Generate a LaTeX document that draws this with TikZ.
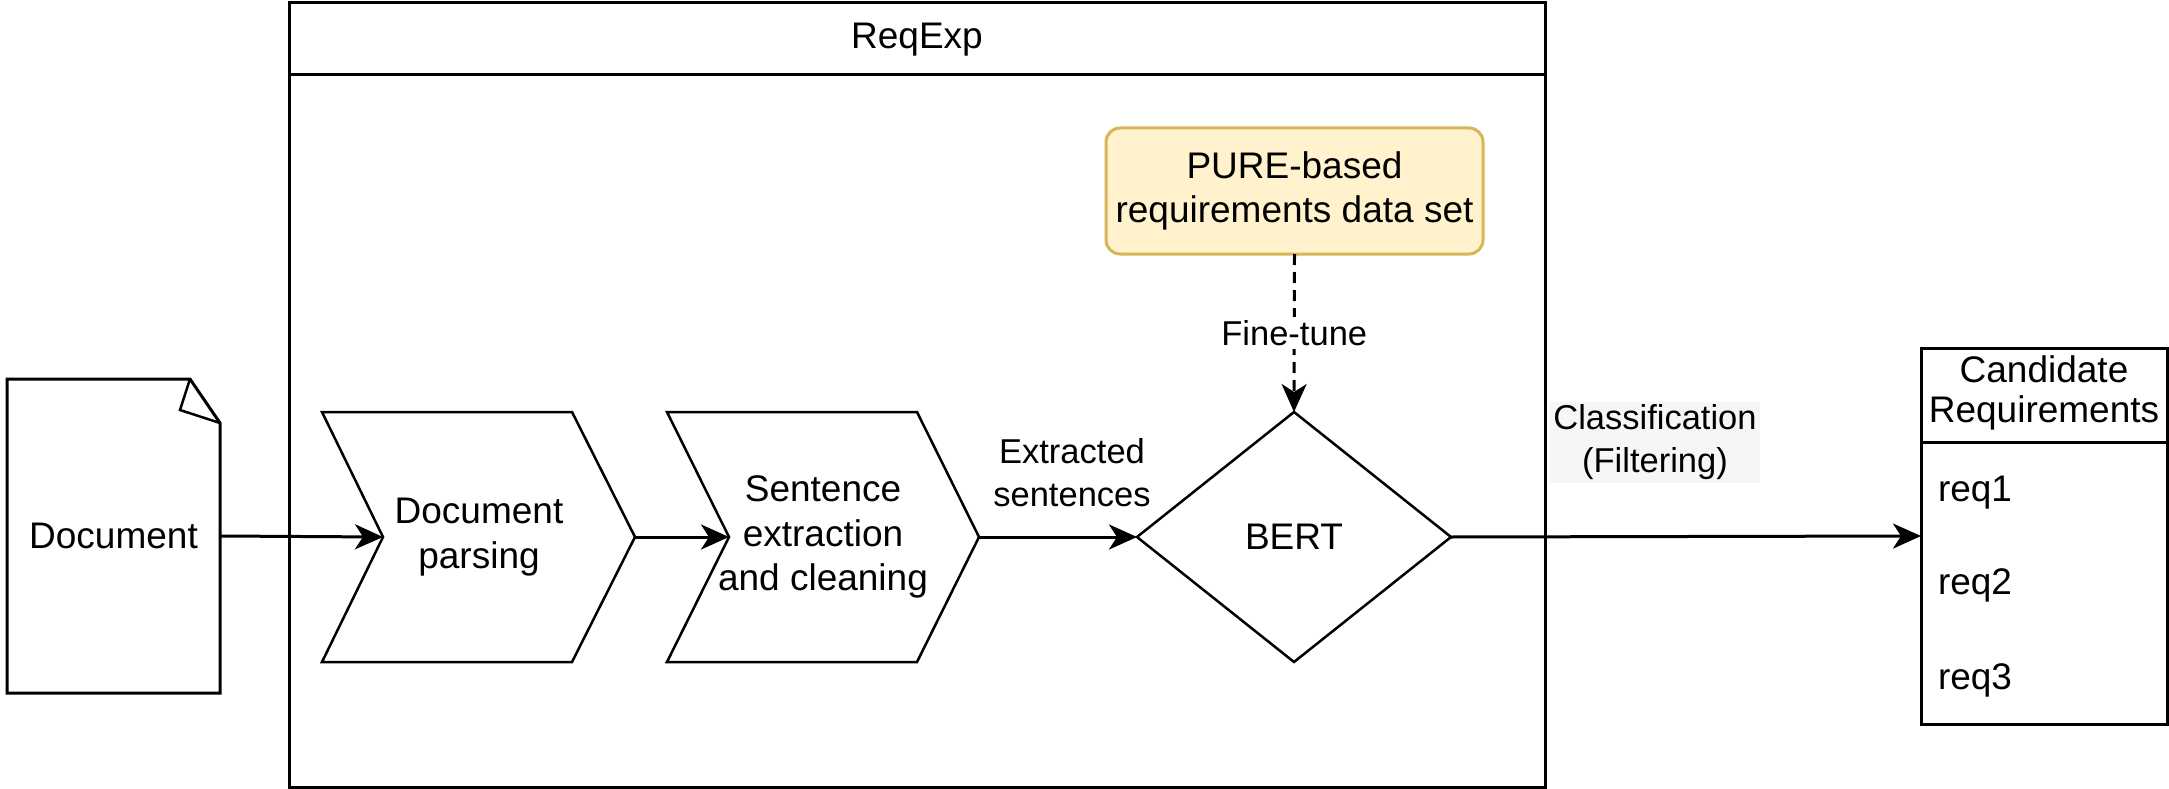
\documentclass[tikz,border=0pt]{standalone}
\usepackage{fontspec}
\setmainfont{Liberation Sans}
\usetikzlibrary{arrows.meta,shapes.geometric}
\definecolor{noteFill}{HTML}{FFF2CC}
\definecolor{noteDraw}{HTML}{D6B656}
\definecolor{labelBg}{HTML}{F5F6F7}

\begin{document}
\begin{tikzpicture}[x=1pt,y=-1pt,
  every node/.style={inner sep=0pt, outer sep=0pt},
  body/.style={font=\fontsize{37}{44.5}\selectfont, align=center},
  lbl/.style={font=\fontsize{34.5}{43}\selectfont, align=center, fill=white, inner sep=3pt},
  frame/.style={draw=black, line width=3pt},
  stepshape/.style={draw=black, line width=2.5pt, line join=miter},
  flow/.style={draw=black, line width=3pt, -{Stealth[length=28pt,width=25pt,inset=8pt]}},
  finetune/.style={flow, dash pattern=on 11pt off 7pt}]
\useasboundingbox (0,0) rectangle (2169,789);

% ReqExp container with its title bar
\node[frame, minimum width=1256pt, minimum height=784pt, anchor=north west] (reqexp) at (289,3) {};
\draw[frame] (reqexp.west |- 0,75) -- (reqexp.east |- 0,75);
\node[body] (title) at (917,40) {ReqExp};

% Input document with folded corner
\node[body, minimum width=213pt, minimum height=314pt] (doc) at (113.5,536) {Document};
\draw[frame, line join=miter] (7,379) -- (190,379) -- (220,423) -- (220,693) -- (7,693) -- cycle;
\draw[line width=2.5pt, line join=miter] (190,379) -- (180,410) -- (220,423);

% Processing steps
\draw[stepshape] (322,412) -- (572,412) -- (635,537) -- (572,662) -- (322,662) -- (383,537) -- cycle;
\coordinate (dp-in) at (383,537);
\coordinate (dp-out) at (635,537);
\node[body] (dp) at (479,537) {Document\\parsing};

\draw[stepshape] (667,412) -- (917,412) -- (979,537) -- (917,662) -- (667,662) -- (729,537) -- cycle;
\coordinate (se-in) at (729,537);
\coordinate (se-out) at (979,537);
\node[body] (se) at (823,537) {Sentence\\extraction\\and cleaning};

% Classifier and its training data
\node[body, diamond, draw=black, line width=2.5pt, minimum width=314pt, minimum height=250pt] (bert) at (1294,537) {BERT};
\node[body, draw=noteDraw, fill=noteFill, line width=3pt, rounded corners=14pt,
      minimum width=377pt, minimum height=126pt] (pure) at (1294.5,191) {PURE-based\\requirements data set};

% Output list
\node[frame, minimum width=246pt, minimum height=376pt, anchor=north west] (cand) at (1921,348) {};
\draw[frame] (cand.west |- 0,442) -- (cand.east |- 0,442);
\node[font=\fontsize{37}{40}\selectfont, align=center] (candtitle) at (2044,393) {Candidate\\Requirements};
\node[body, anchor=west] (req1) at (1938,493) {req1};
\node[body, anchor=west] (req2) at (1938,585) {req2};
\node[body, anchor=west] (req3) at (1938,680) {req3};

% Connectors
\draw[flow] (doc.east) -- (dp-in);
\draw[flow] (dp-out) -- (se-in);
\draw[flow] (se-out) -- (bert.west);
\node[lbl] (xlbl) at (1072,473) {Extracted\\sentences};
\draw[finetune] (pure.south) -- node[lbl] (ftlbl) {Fine-tune} (bert.north);
\draw[flow] (bert.east) -- node[lbl, fill=labelBg, pos=0.434, yshift=94pt] (clslbl) {Classification\\(Filtering)} (cand.west);

\end{tikzpicture}
\end{document}
